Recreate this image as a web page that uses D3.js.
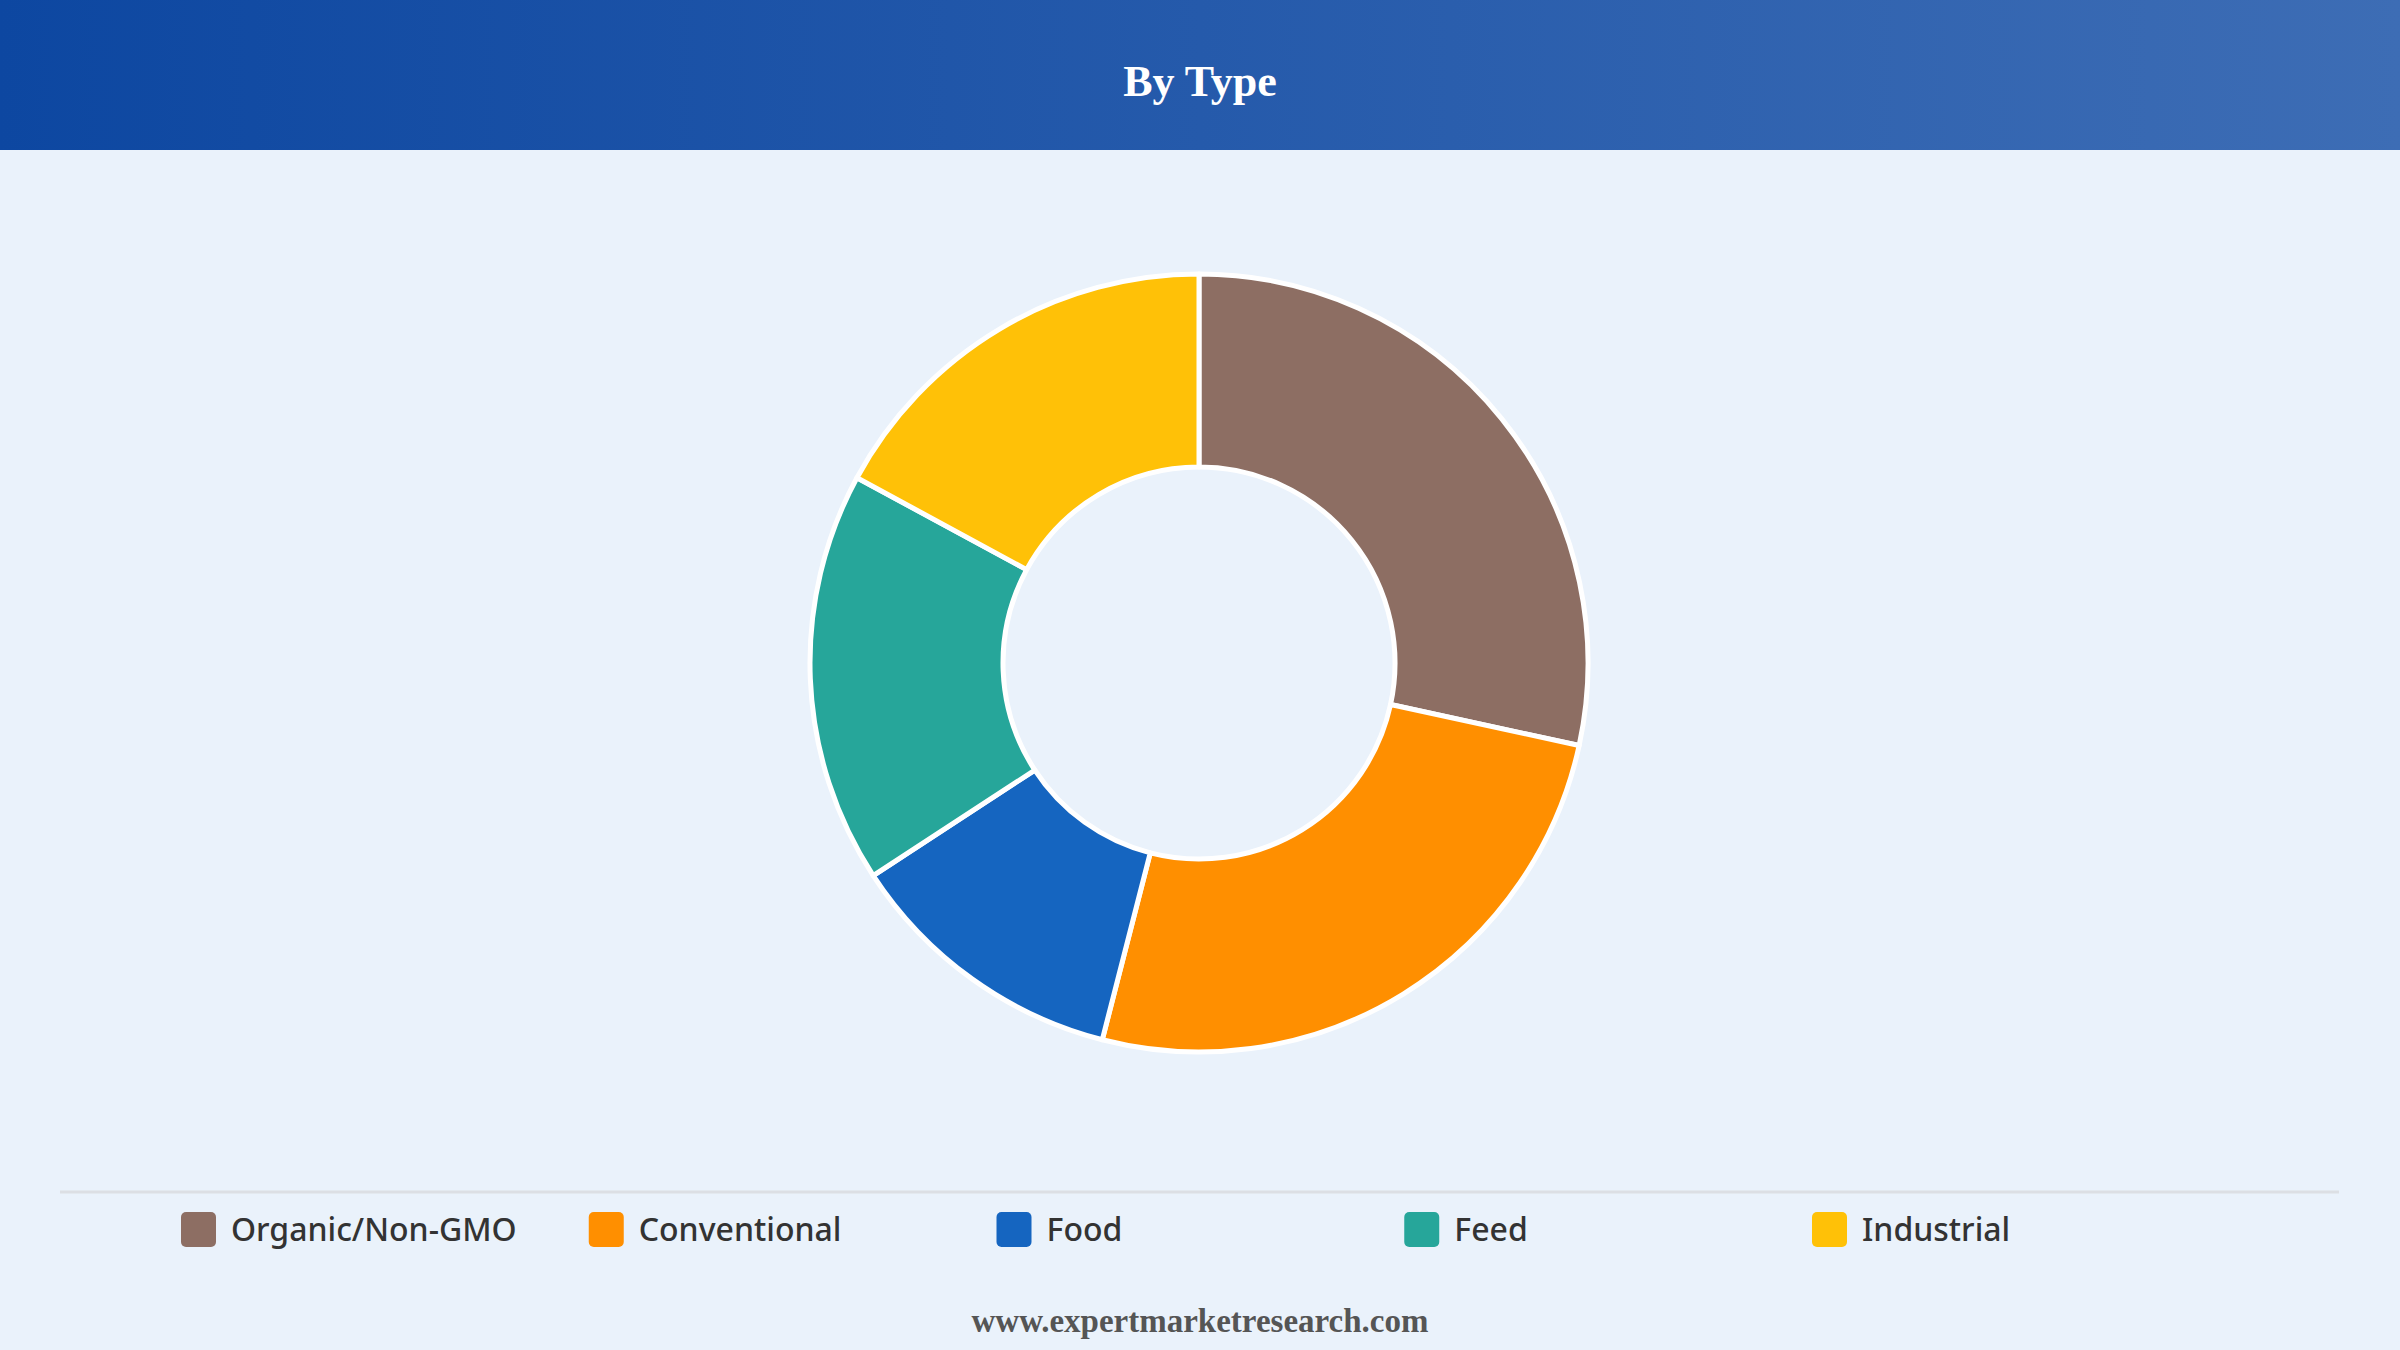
<!DOCTYPE html>
<html>
<head>
<meta charset="utf-8">
<script src="https://cdn.jsdelivr.net/npm/d3@7"></script>
<style>
  html, body { margin: 0; padding: 0; background: #eaf2fb; }
  svg { display: block; }
</style>
</head>
<body>
<div id="chart"></div>
<script>
var w = 2400, h = 1350; // size of the page

// data
var categories = ["Organic/Non-GMO", "Conventional", "Food", "Feed", "Industrial"];
var values = [28.4, 25.6, 11.8, 17.1, 17.1];
var colors = ["#8d6e63", "#ff8f00", "#1565c0", "#26a69a", "#ffc107"];
var title = "By Type";
var source = "www.expertmarketresearch.com";

var svg = d3.select("#chart")
    .append("svg")
    .attr("width", w)
    .attr("height", h);

// background
svg.append("rect").attr("width", w).attr("height", h).attr("fill", "#eaf2fb");

// header band with gradient
var grad = svg.append("defs").append("linearGradient")
    .attr("id", "head")
    .attr("x1", "0%").attr("x2", "100%").attr("y1", "0%").attr("y2", "0%");
grad.append("stop").attr("offset", "0%").attr("stop-color", "#0d47a1");
grad.append("stop").attr("offset", "100%").attr("stop-color", "#3d6db5");

svg.append("rect")
    .attr("width", w).attr("height", 150)
    .attr("fill", "url(#head)");

svg.append("text")
    .attr("x", w / 2).attr("y", 96)
    .attr("text-anchor", "middle")
    .attr("font-family", "'Liberation Serif', 'Times New Roman', serif")
    .attr("font-weight", "bold")
    .attr("font-size", 44)
    .attr("fill", "#fff")
    .text(title);

// donut
var cx = 1199, cy = 663, outerR = 389, innerR = 196;

var pie = d3.pie().sort(null).value(function(d) { return d; });
var arc = d3.arc().innerRadius(innerR).outerRadius(outerR);

var color = d3.scaleOrdinal().domain(categories).range(colors);

svg.append("g")
    .attr("transform", "translate(" + cx + "," + cy + ")")
    .selectAll("path")
    .data(pie(values))
    .enter()
    .append("path")
    .attr("d", arc)
    .attr("fill", function(d, i) { return color(categories[i]); })
    .attr("stroke", "#fff")
    .attr("stroke-width", 5)
    .attr("stroke-linejoin", "round");

// separator above legend
svg.append("line")
    .attr("x1", 60).attr("x2", 2339)
    .attr("y1", 1192).attr("y2", 1192)
    .attr("stroke", "#dcdfe4")
    .attr("stroke-width", 3);

// legend
var legendX = d3.scalePoint().domain(categories).range([181, 1812]);

var item = svg.selectAll("g.legend")
    .data(categories)
    .enter()
    .append("g")
    .attr("class", "legend")
    .attr("transform", function(d) { return "translate(" + legendX(d) + ",1229)"; });

item.append("rect")
    .attr("x", 0).attr("y", -17)
    .attr("width", 35).attr("height", 35)
    .attr("rx", 5)
    .attr("fill", function(d) { return color(d); });

item.append("text")
    .attr("x", 50).attr("y", 12)
    .attr("font-family", "'Noto Sans', 'Open Sans', sans-serif")
    .attr("font-size", 32)
    .attr("font-weight", 500)
    .attr("fill", "#333")
    .text(function(d) { return d; });

// footer
svg.append("text")
    .attr("x", w / 2).attr("y", 1332)
    .attr("text-anchor", "middle")
    .attr("font-family", "'Liberation Serif', 'Times New Roman', serif")
    .attr("font-weight", "bold")
    .attr("font-size", 33)
    .attr("fill", "#555")
    .text(source);
</script>
</body>
</html>
